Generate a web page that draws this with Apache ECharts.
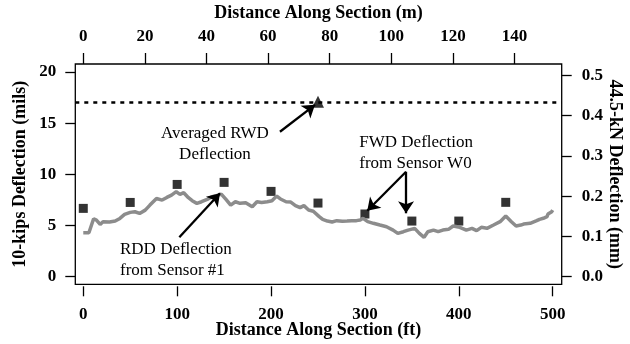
<!DOCTYPE html>
<html><head><meta charset="utf-8">
<script src="https://cdn.jsdelivr.net/npm/echarts@6/dist/echarts.min.js"></script>
<style>html,body{margin:0;padding:0;background:#fff}#c{width:630px;height:344px}</style>
</head><body><div id="c"></div>
<script>
// RDD deflection from Sensor #1 (continuous)
const rddDist = [0,6,11,14,18,21,28,34,39,44,50,55,60,66,71,78,84,89,94,99,103,107,112,116,121,126,132,137,142,147,152,157,162,167,173,180,185,190,196,201,206,210,216,221,226,231,235,240,245,251,255,260,265,270,276,281,286,291,295,298,303,309,316,323,330,335,341,346,353,358,363,367,373,378,383,389,394,401,408,414,419,424,430,437,444,450,456,461,466,469,476,483,486,490,492,494,495,499,500];
const rddMils = [4.30,4.30,5.67,5.54,5.11,5.37,5.34,5.44,5.70,6.09,6.29,6.35,6.19,6.51,7.00,7.65,7.49,7.75,7.98,8.31,8.05,8.21,7.72,7.43,7.17,7.33,7.56,7.82,7.92,8.08,7.56,7.00,7.33,7.17,7.23,6.84,7.33,7.26,7.33,7.43,7.88,7.60,7.33,7.30,6.95,6.75,6.95,6.52,6.40,5.90,5.60,5.44,5.35,5.48,5.42,5.44,5.48,5.48,5.55,5.71,5.38,5.22,5.05,4.89,4.56,4.24,4.40,4.56,4.73,4.24,3.85,4.40,4.56,4.40,4.56,4.63,4.96,4.83,4.56,4.73,4.50,4.83,4.73,5.05,5.38,5.93,5.38,4.96,5.05,5.15,5.22,5.48,5.61,5.71,5.87,5.87,6.13,6.36,6.52];
// FWD deflection from Sensor W0
const fwdDist = [0,50,100,150,200,250,300,350,400,450];
const fwdMils = [6.68,7.26,9.02,9.22,8.34,7.20,6.13,5.44,5.44,7.27];
// Averaged RWD deflection
const rwdDist = [250];
const rwdMils = [17.1];
// Tick labels
const leftTicks = [0,5,10,15,20];
const rightTicks = [0,0.1,0.2,0.3,0.4,0.5];
const bottomTicks = [0,100,200,300,400,500];
const topTicks = [0,20,40,60,80,100,120,140];

const MIL_TO_MM = 0.0254, FT_PER_M = 3.28084;
const X_MIN = -8.5, X_MAX = 509.6, Y_MIN = -0.74, Y_MAX = 20.79;

// annotations (data coords)
const arrows = [
  [[209.5,14.17],[246.8,16.8]],
  [[102.3,3.85],[145.6,8.15]],
  [[343.8,10.26],[302.5,6.45]],
  [[343.8,10.26],[343.8,6.2]]
];
const notes = [
  {text:'Averaged RWD\nDeflection', at:[140.3,12.92], align:'center'},
  {text:'FWD Deflection\nfrom Sensor W0', at:[294,12.1], align:'left'},
  {text:'RDD Deflection\nfrom Sensor #1', at:[39.1,1.6], align:'left'}
];

const FF = 'Liberation Serif';
const lbl = {fontFamily:FF, fontWeight:'bold', fontSize:17, color:'#000'};
const nameStyle = {fontFamily:FF, fontWeight:'bold', fontSize:18, color:'#000'};
const tickStyle = {color:'#000', width:1.3};
const noLine = {show:false, onZero:false};

const chart = echarts.init(document.getElementById('c'));
chart.setOption({
  animation:false,
  grid:{left:75.3, right:68.3, top:64, bottom:59.7, show:true, borderColor:'#000', borderWidth:1.3,
        backgroundColor:'transparent', containLabel:false, outerBoundsMode:'none'},
  xAxis:[
    {type:'value', position:'bottom', min:X_MIN, max:X_MAX, offset:2,
     axisLine:noLine, splitLine:{show:false},
     axisTick:{show:true, length:10, lineStyle:tickStyle, customValues:bottomTicks},
     axisLabel:Object.assign({margin:20, customValues:bottomTicks}, lbl),
     name:'Distance Along Section (ft)', nameLocation:'middle', nameGap:35, nameMoveOverlap:false, nameTextStyle:nameStyle},
    {type:'value', position:'top', min:X_MIN/FT_PER_M, max:X_MAX/FT_PER_M,
     axisLine:noLine, splitLine:{show:false},
     axisTick:{show:true, length:11, lineStyle:tickStyle, customValues:topTicks},
     axisLabel:Object.assign({margin:19, customValues:topTicks}, lbl),
     name:'Distance Along Section (m)', nameLocation:'middle', nameGap:42, nameMoveOverlap:false, nameTextStyle:nameStyle}
  ],
  yAxis:[
    {type:'value', position:'left', min:Y_MIN, max:Y_MAX,
     axisLine:noLine, splitLine:{show:false},
     axisTick:{show:true, length:10, lineStyle:tickStyle, customValues:leftTicks},
     axisLabel:Object.assign({margin:19, customValues:leftTicks}, lbl),
     name:'10-kips Deflection (mils)', nameLocation:'middle', nameGap:46, nameMoveOverlap:false, nameTextStyle:nameStyle},
    {type:'value', position:'right', min:Y_MIN*MIL_TO_MM, max:Y_MAX*MIL_TO_MM,
     axisLine:noLine, splitLine:{show:false},
     axisTick:{show:true, length:10, lineStyle:tickStyle, customValues:rightTicks},
     axisLabel:Object.assign({margin:20, customValues:rightTicks, formatter:v=>v.toFixed(1)}, lbl),
     name:'44.5-kN Deflection (mm)', nameLocation:'middle', nameGap:44, nameRotate:-90, nameMoveOverlap:false, nameTextStyle:nameStyle}
  ],
  series:[
    {type:'line', name:'RDD', xAxisIndex:0, yAxisIndex:0, symbol:'none', silent:true,
     lineStyle:{color:'#8c8c8c', width:3.5}, data:rddDist.map((d,i)=>[d,rddMils[i]])},
    {type:'scatter', name:'FWD', xAxisIndex:0, yAxisIndex:0, symbol:'rect', symbolSize:9, silent:true,
     itemStyle:{color:'#000'}, data:fwdDist.map((d,i)=>[d,fwdMils[i]])},
    {type:'scatter', name:'RWD', xAxisIndex:0, yAxisIndex:0, symbol:'triangle', symbolSize:12, silent:true,
     itemStyle:{color:'#000'}, data:rwdDist.map((d,i)=>[d,rwdMils[i]]),
     markLine:{silent:true, symbol:'none', label:{show:false},
       lineStyle:{color:'#000', type:[4,5], width:2.5},
       data:[{yAxis:rwdMils[0]}]}},
    {type:'line', name:'arrows', xAxisIndex:0, yAxisIndex:0, data:[], silent:true,
     markLine:{silent:true, symbol:['none','arrow'], symbolSize:12, label:{show:false},
       lineStyle:{color:'#000', type:'solid', width:2.3},
       data:arrows.map(a=>[{coord:a[0]},{coord:a[1]}])}}
  ]
});
const g = notes.map(n=>{
  const p = chart.convertToPixel({xAxisIndex:0, yAxisIndex:0}, n.at);
  return {type:'text', x:p[0], y:p[1], z:100,
    style:{text:n.text, fontFamily:FF, fontSize:17, lineHeight:21, fill:'#000', align:n.align, verticalAlign:'middle'}};
});
chart.setOption({graphic:g});
</script>
</body></html>
